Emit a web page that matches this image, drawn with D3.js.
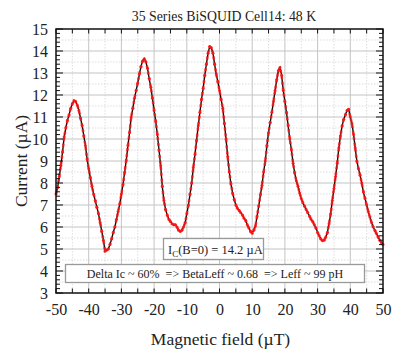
<!DOCTYPE html>
<html>
<head>
<meta charset="utf-8">
<script src="https://cdn.jsdelivr.net/npm/d3@7"></script>
<style>
  html, body { margin: 0; padding: 0; background: #fff; }
  svg { display: block; }
  text { font-family: "Liberation Serif", "Times New Roman", serif; fill: #222; }
</style>
</head>
<body>
<svg id="chart" width="393" height="352"></svg>
<script>
// Magnetic field sweep (µT), 0.5 µT steps
const field = d3.range(-50, 50.001, 0.5).map(v => +v.toFixed(1));

// Critical current (µA) at each field value
const current = [
  7.5, 7.8, 8.3, 8.8, 9.4, 10.1, 10.5, 10.85, 11.1, 11.4,          // -50 .. -45.5
  11.6, 11.75, 11.7, 11.55, 11.3, 10.95, 10.6, 10.15, 9.7, 9.1,    // -45 .. -40.5
  8.65, 8.25, 7.85, 7.5, 7.2, 6.9, 6.6, 6.2, 5.8, 5.4,             // -40 .. -35.5
  4.9, 4.95, 5.0, 5.2, 5.45, 5.75, 6.0, 6.35, 6.7, 7.05,           // -35 .. -30.5
  7.5, 7.95, 8.5, 9.05, 9.7, 10.3, 11.0, 11.4, 11.85, 12.2,        // -30 .. -25.5
  12.55, 12.95, 13.3, 13.55, 13.65, 13.5, 13.2, 12.75, 12.35, 11.85, // -25 .. -20.5
  11.3, 10.8, 10.2, 9.5, 8.8, 7.85, 7.2, 6.8, 6.55, 6.35,          // -20 .. -15.5
  6.25, 6.15, 6.1, 6.1, 6.0, 5.85, 5.8, 5.85, 6.0, 6.2,            // -15 .. -10.5
  6.6, 7.0, 7.5, 8.0, 8.7, 9.3, 9.95, 10.6, 11.2, 11.8,            // -10 .. -5.5
  12.3, 12.9, 13.4, 13.9, 14.2, 14.15, 13.9, 13.4, 12.95, 12.6,    // -5 .. -0.5
  12.2, 11.8, 11.4, 10.7, 10.0, 9.2, 8.5, 7.95, 7.55, 7.25,        // 0 .. 4.5
  7.0, 6.85, 6.75, 6.65, 6.55, 6.4, 6.3, 6.1, 5.95, 5.8,           // 5 .. 9.5
  5.72, 5.85, 6.05, 6.5, 6.95, 7.45, 7.9, 8.5, 9.0, 9.7,           // 10 .. 14.5
  10.3, 10.75, 11.2, 11.7, 12.2, 12.7, 13.1, 13.25, 12.9, 12.2,    // 15 .. 19.5
  11.7, 11.2, 10.6, 10.0, 9.5, 8.9, 8.45, 8.1, 7.85, 7.55,         // 20 .. 24.5
  7.3, 7.1, 6.95, 6.8, 6.65, 6.5, 6.35, 6.25, 6.1, 5.95,           // 25 .. 29.5
  5.75, 5.6, 5.45, 5.38, 5.4, 5.55, 5.75, 6.15, 6.6, 7.2,          // 30 .. 34.5
  7.75, 8.3, 8.9, 9.6, 10.15, 10.6, 10.9, 11.1, 11.3, 11.35,       // 35 .. 39.5
  11.0, 10.7, 10.2, 9.6, 9.0, 8.65, 8.35, 8.0, 7.6, 7.3,           // 40 .. 44.5
  7.0, 6.7, 6.45, 6.2, 6.0, 5.85, 5.7, 5.55, 5.4, 5.3,             // 45 .. 49.5
  5.2                                                              // 50
];

const xTicks = [-50, -40, -30, -20, -10, 0, 10, 20, 30, 40, 50];
const yTicks = [3, 4, 5, 6, 7, 8, 9, 10, 11, 12, 13, 14, 15];

const titleText = "35 Series BiSQUID Cell14: 48 K";
const xTitle = "Magnetic field (\u00B5T)";
const yTitle = "Current (\u00B5A)";
const icValue = 14.2;
const noteText = "Delta Ic ~ 60%  => BetaLeff ~ 0.68  => Leff ~ 99 pH";

const data = field.map((f, i) => ({ f, c: current[i] }));

const svg = d3.select("#chart");
const plotL = 56, plotR = 383, plotT = 29, plotB = 293;

const x = d3.scaleLinear().domain([-50, 50]).range([plotL, plotR]);
const y = d3.scaleLinear().domain([3, 15]).range([plotB, plotT]);

// grid: dotted minor lines first, then solid major lines
const grid = svg.append("g");
const xMinor = d3.range(-45, 50, 10);
const yMinor = d3.range(3.5, 15, 1);
grid.selectAll(".gxm").data(xMinor).join("line")
  .attr("x1", d => x(d)).attr("x2", d => x(d)).attr("y1", plotT).attr("y2", plotB)
  .attr("stroke", "#d4d4d4").attr("stroke-width", 0.8).attr("stroke-dasharray", "1.5,1.5");
grid.selectAll(".gym").data(yMinor).join("line")
  .attr("y1", d => y(d)).attr("y2", d => y(d)).attr("x1", plotL).attr("x2", plotR)
  .attr("stroke", "#d4d4d4").attr("stroke-width", 0.8).attr("stroke-dasharray", "1.5,1.5");
grid.selectAll(".gx").data(xTicks.slice(1, -1)).join("line")
  .attr("x1", d => x(d)).attr("x2", d => x(d)).attr("y1", plotT).attr("y2", plotB)
  .attr("stroke", "#c4c4c4").attr("stroke-width", 1);
grid.selectAll(".gy").data(yTicks.slice(1, -1)).join("line")
  .attr("y1", d => y(d)).attr("y2", d => y(d)).attr("x1", plotL).attr("x2", plotR)
  .attr("stroke", "#c4c4c4").attr("stroke-width", 1);

// data: black connecting line, overdrawn with a dense red trace and point markers
const line = d3.line().x(d => x(d.f)).y(d => y(d.c));
svg.append("path").datum(data)
  .attr("d", line).attr("fill", "none").attr("stroke", "#111").attr("stroke-width", 1.4);
svg.append("path").datum(data)
  .attr("d", line).attr("fill", "none").attr("stroke", "#ff1414").attr("stroke-width", 2.5)
  .attr("stroke-linejoin", "round").attr("stroke-dasharray", "3,3").attr("opacity", 0.85);
svg.append("g").selectAll("circle").data(data).join("circle")
  .attr("cx", d => x(d.f)).attr("cy", d => y(d.c)).attr("r", 1.5)
  .attr("fill", "#ff1414").attr("opacity", 0.9);

// annotation boxes
const box1 = svg.append("g");
box1.append("rect").attr("x", 163.5).attr("y", 238.5).attr("width", 100).attr("height", 21)
  .attr("fill", "#fff").attr("stroke", "#999").attr("stroke-width", 1.3);
const t1 = box1.append("text").attr("x", 168).attr("y", 253.5).attr("font-size", 12.5);
t1.append("tspan").text("I");
t1.append("tspan").attr("font-size", 9).attr("dy", 3).text("C");
t1.append("tspan").attr("dy", -3).text(`(B=0) = ${icValue} \u00B5A`);

const box2 = svg.append("g");
box2.append("rect").attr("x", 65.5).attr("y", 264.5).attr("width", 299).attr("height", 18)
  .attr("fill", "#fff").attr("stroke", "#999").attr("stroke-width", 1.3);
box2.append("text").attr("x", 215).attr("y", 277.5).attr("text-anchor", "middle")
  .attr("font-size", 12).style("white-space", "pre").text(noteText);

// axes with inward ticks
const axisFont = 16;
const gx = svg.append("g").attr("transform", `translate(0,${plotB})`)
  .call(d3.axisBottom(x).tickValues(xTicks).tickSize(0).tickPadding(10.5).tickFormat(d3.format("d")));
const gy = svg.append("g").attr("transform", `translate(${plotL},0)`)
  .call(d3.axisLeft(y).tickValues(yTicks).tickSize(0).tickPadding(8).tickFormat(d3.format("d")));
[gx, gy].forEach(g => {
  g.select(".domain").remove();
  g.selectAll("text").attr("font-size", axisFont).attr("font-family", "Liberation Serif").attr("fill", "#222");
});
gx.selectAll("text").text(d => d < 0 ? "-" + Math.abs(d) : d);

const ticks = svg.append("g").attr("stroke", "#111").attr("stroke-width", 1);
const xt = d3.range(-50, 50.001, 5);
ticks.selectAll(".tb").data(xt).join("line")
  .attr("x1", d => x(d)).attr("x2", d => x(d)).attr("y1", plotB).attr("y2", plotB - 4.5);
ticks.selectAll(".tt").data(xt).join("line")
  .attr("x1", d => x(d)).attr("x2", d => x(d)).attr("y1", plotT).attr("y2", plotT + 4.5);
const yt = d3.range(3, 15.001, 0.2).map(v => +v.toFixed(1));
const isMajor = v => Math.abs(v - Math.round(v)) < 1e-6;
ticks.selectAll(".tl").data(yt).join("line")
  .attr("y1", d => y(d)).attr("y2", d => y(d)).attr("x1", plotL).attr("x2", d => plotL + (isMajor(d) ? 7 : 4));
ticks.selectAll(".tr").data(yt).join("line")
  .attr("y1", d => y(d)).attr("y2", d => y(d)).attr("x1", plotR).attr("x2", d => plotR - (isMajor(d) ? 7 : 4));

// frame
svg.append("rect").attr("x", plotL).attr("y", plotT).attr("width", plotR - plotL).attr("height", plotB - plotT)
  .attr("fill", "none").attr("stroke", "#111").attr("stroke-width", 1.5);

// titles
svg.append("text").attr("x", 224).attr("y", 21).attr("text-anchor", "middle")
  .attr("font-size", 13.8).text(titleText);
svg.append("text").attr("x", 220.5).attr("y", 345).attr("text-anchor", "middle")
  .attr("font-size", 17.5).text(xTitle);
svg.append("text").attr("transform", "translate(27,161) rotate(-90)").attr("text-anchor", "middle")
  .attr("font-size", 17.5).text(yTitle);
</script>
</body>
</html>
